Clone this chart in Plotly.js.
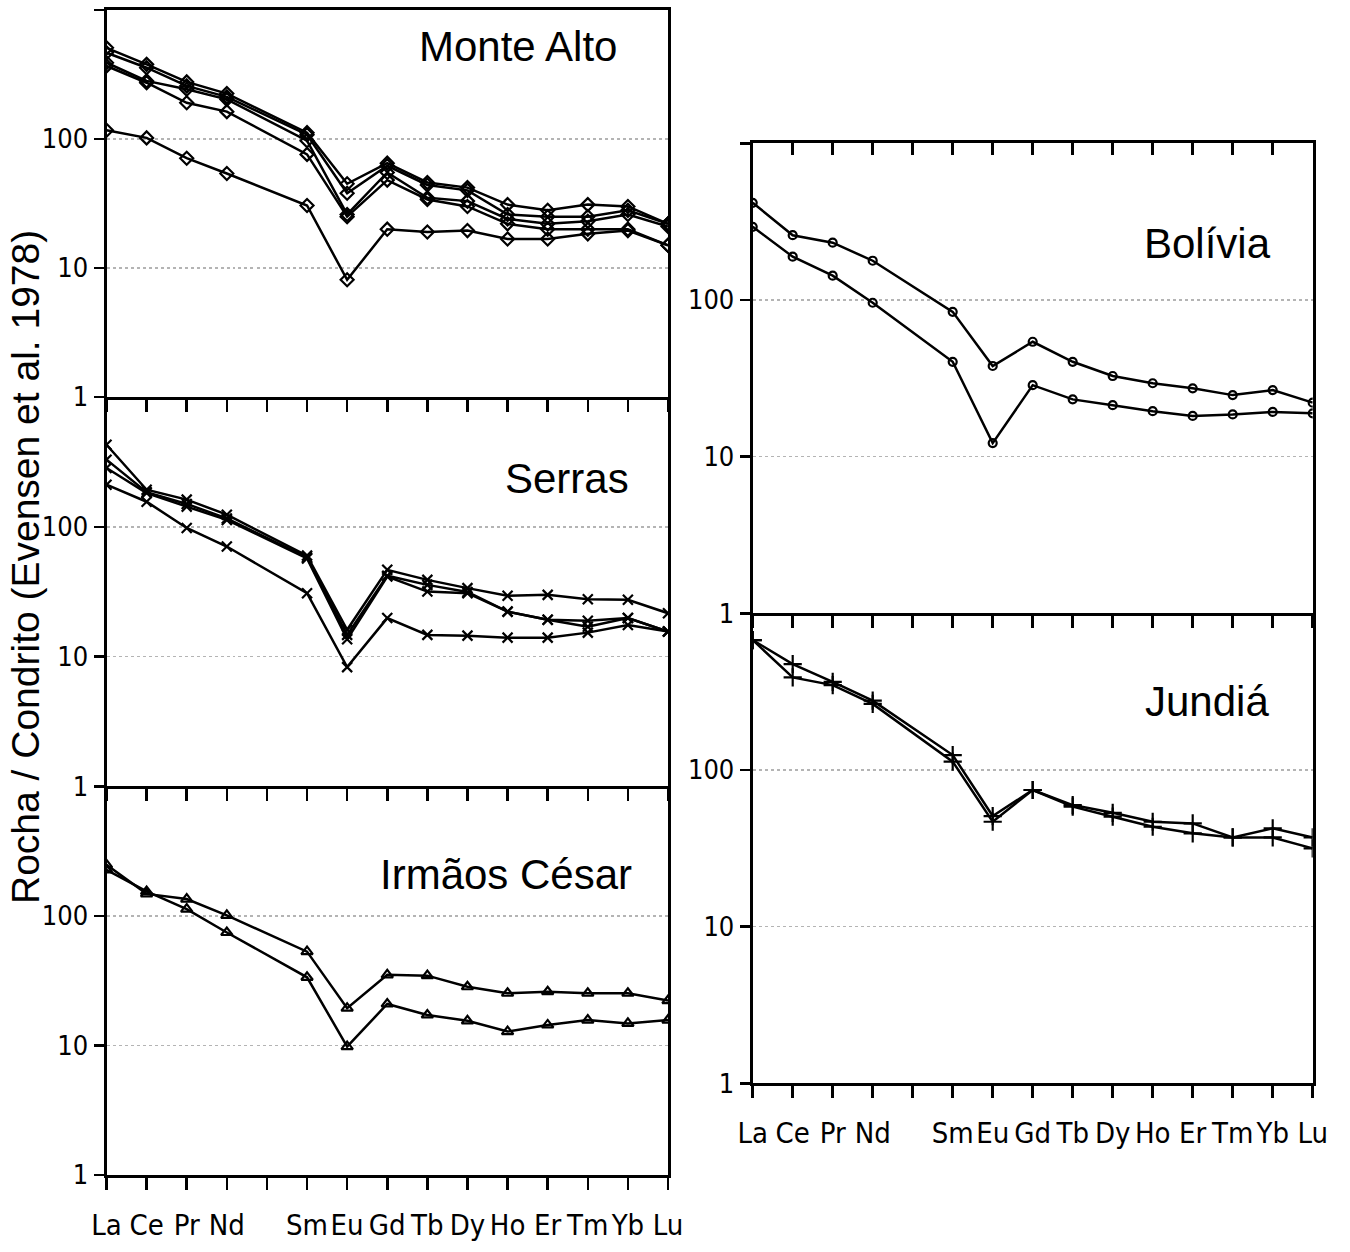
<!DOCTYPE html>
<html>
<head>
<meta charset="utf-8">
<script src="https://cdn.plot.ly/plotly-3.0.1.min.js"></script>
<style>
  html, body { margin: 0; padding: 0; background: #ffffff; }
  #chart { width: 1350px; height: 1252px; }
</style>
</head>
<body>
<div id="chart"></div>
<script>
// Rare earth elements in atomic order (Pm left blank, no data)
const ree = ['La', 'Ce', 'Pr', 'Nd', '', 'Sm', 'Eu', 'Gd', 'Tb', 'Dy', 'Ho', 'Er', 'Tm', 'Yb', 'Lu'];

// Chondrite-normalised REE values per locality
const monteAlto = [
  [509, 379, 277, 225, null, 112, 45, 65, 46, 42, 31, 28, 31, 30, 22],
  [466, 357, 258, 212, null, 108, 38, 62, 44, 40, 26, 25, 25, 28, 22],
  [390, 282, 243, 203, null, 97, 26, 55, 35, 33, 24, 22, 23, 26, 21],
  [368, 273, 191, 163, null, 76, 25, 48, 34, 30, 22, 20, 20, 20, 15],
  [117, 102, 71, 54, null, 30.5, 8.1, 20, 19, 19.5, 16.8, 16.8, 18.4, 19.5, 15]
];
const serras = [
  [429, 193, 162, 124, null, 60, 16.1, 46.6, 39, 33.7, 29.4, 29.9, 27.7, 27.4, 21.6],
  [329, 185, 150, 116, null, 58, 14.7, 42, 35.7, 31.5, 22.2, 19.2, 18.9, 19.8, 15.6],
  [284, 182, 143, 113, null, 57, 13.6, 41.4, 31.7, 30.8, 22.2, 19.2, 17.0, 19.8, 15.6],
  [211, 156, 98, 70.5, null, 30.8, 8.3, 19.8, 14.7, 14.5, 14.0, 14.0, 15.3, 17.5, 15.6]
];
const irmaosCesar = [
  [248, 148, 135, 101, null, 53, 19.4, 35.1, 34.6, 28.4, 25.3, 26.0, 25.3, 25.3, 22.2],
  [227, 154.5, 113, 74.5, null, 33.6, 9.8, 20.9, 17.2, 15.5, 12.8, 14.4, 15.7, 14.8, 15.7]
];
const bolivia = [
  [417, 259, 232, 178, null, 84, 37.9, 54.1, 40.3, 32.7, 29.4, 27.3, 24.7, 26.6, 22.1],
  [293, 189, 143, 96, null, 40.3, 12.2, 28.6, 23.2, 21.3, 19.5, 18.2, 18.6, 19.3, 18.9]
];
const jundia = [
  [675, 474, 365, 277, null, 124.5, 50.8, 74.5, 59.7, 53.3, 46.7, 45.6, 37.1, 42.4, 37.1],
  [675, 390, 348, 264, null, 113, 46.7, 74.5, 58.3, 50.3, 43.4, 39.4, 37.1, 37.1, 31.6]
];

const yTickVals = [1, 10, 100, 1000];
const yTickText = ['1', '10', '100', ''];

const W = 1350, H = 1252;
const px = v => v / W;
const py = v => 1 - v / H;

const narrow = '"DejaVu Sans Condensed", "DejaVu Sans", sans-serif';
const sans = '"Liberation Sans", Arial, sans-serif';

const xIdx = ree.map((_, i) => i);

// panels: series, marker symbol, marker size, axis ids (one x axis per series allowed)
const panels = [
  { name: 'Monte Alto', data: monteAlto, symbol: 'diamond-open', size: 10, xa: ['x'], ya: 'y' },
  { name: 'Serras', data: serras, symbol: 'x-thin-open', size: 10, xa: ['x2'], ya: 'y2' },
  { name: 'Irmãos César', data: irmaosCesar, symbol: 'triangle-up-open', size: 10, xa: ['x3'], ya: 'y3' },
  { name: 'Bolívia', data: bolivia, symbol: 'circle-open', size: 8, xa: ['x4', 'x6'], ya: 'y4' },
  { name: 'Jundiá', data: jundia, symbol: 'cross-thin-open', size: 13, xa: ['x5'], ya: 'y5' }
];

const traces = [];
panels.forEach(p => {
  p.data.forEach((vals, k) => {
    traces.push({
      type: 'scatter', mode: 'lines+markers',
      x: xIdx, y: vals, connectgaps: true,
      xaxis: p.xa[k % p.xa.length], yaxis: p.ya,
      name: p.name + ' ' + (k + 1),
      line: { color: '#000000', width: 2.5 },
      marker: { symbol: p.symbol, size: p.size, color: '#000000', line: { color: '#000000', width: 2.2 } },
      showlegend: false, hoverinfo: 'skip'
    });
  });
});

function xAxis(domain, anchor, labels, mirror) {
  return {
    domain: domain, anchor: anchor, range: [0, 14],
    tickmode: 'array', tickvals: xIdx, ticktext: ree, tickangle: 0,
    ticks: 'outside', ticklen: 12, tickwidth: 2.5, tickcolor: '#000000',
    showticklabels: labels, ticklabelstandoff: 10,
    tickfont: { family: narrow, size: 29, color: '#000000' },
    showline: true, linewidth: 3, linecolor: '#000000', mirror: mirror,
    showgrid: false, zeroline: false, fixedrange: true
  };
}
function yAxis(domain, anchor) {
  return {
    domain: domain, anchor: anchor, type: 'log', range: [0, 3],
    tickmode: 'array', tickvals: yTickVals, ticktext: yTickText,
    ticks: 'outside', ticklen: 10, tickwidth: 2.5, tickcolor: '#000000',
    ticklabelstandoff: 0,
    tickfont: { family: narrow, size: 27, color: '#000000' },
    showline: true, linewidth: 3, linecolor: '#000000', mirror: true,
    showgrid: true, gridcolor: '#b4b4b4', gridwidth: 1.5, griddash: 'dot',
    zeroline: false, fixedrange: true
  };
}

const leftX = [px(106.5), px(668)];
const rightX = [px(752.7), px(1312.7)];

const layout = {
  width: W, height: H, autosize: false,
  margin: { l: 0, r: 0, t: 0, b: 0 },
  paper_bgcolor: '#ffffff', plot_bgcolor: '#ffffff',
  showlegend: false,
  xaxis: xAxis(leftX, 'y', false, true),
  yaxis: yAxis([py(397), py(10)], 'x'),
  xaxis2: xAxis(leftX, 'y2', false, false),
  yaxis2: yAxis([py(786.4), py(397)], 'x2'),
  xaxis3: xAxis(leftX, 'y3', true, false),
  yaxis3: yAxis([py(1175), py(786.4)], 'x3'),
  xaxis4: xAxis(rightX, 'y4', false, false),
  yaxis4: yAxis([py(613.3), py(143.3)], 'x4'),
  xaxis5: xAxis(rightX, 'y5', true, false),
  yaxis5: yAxis([py(1083.3), py(613.3)], 'x5'),
  // top edge of the Bolívia panel, ticks pointing inward
  xaxis6: Object.assign(xAxis(rightX, 'y4', false, false), {
    overlaying: 'x4', side: 'top', ticks: 'inside'
  }),
  annotations: [
    { text: 'Monte Alto', x: px(619), y: py(47) },
    { text: 'Serras', x: px(631), y: py(478) },
    { text: 'Irmãos César', x: px(634), y: py(874) },
    { text: 'Bolívia', x: px(1273), y: py(243) },
    { text: 'Jundiá', x: px(1271), y: py(701) }
  ].map(a => Object.assign(a, {
    xref: 'paper', yref: 'paper', xanchor: 'right', yanchor: 'middle',
    showarrow: false, font: { family: sans, size: 42, color: '#000000' }
  })).concat([{
    text: 'Rocha / Condrito (Evensen et al. 1978)',
    xref: 'paper', yref: 'paper', x: px(25), y: py(567),
    xanchor: 'center', yanchor: 'middle', textangle: -90, showarrow: false,
    font: { family: sans, size: 39, color: '#000000' }
  }])
};

Plotly.newPlot('chart', traces, layout, { staticPlot: true, displayModeBar: false });
</script>
</body>
</html>
